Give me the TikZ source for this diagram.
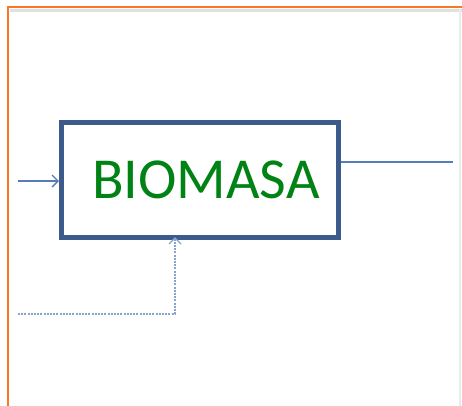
\documentclass[tikz,border=0pt]{standalone}
\usepackage{fontspec}
\setmainfont{Carlito}
\usetikzlibrary{arrows.meta}
\definecolor{frameorange}{RGB}{250,120,35}
\definecolor{boxblue}{RGB}{60,90,140}
\definecolor{lineblue}{RGB}{85,125,185}
\definecolor{textgreen}{RGB}{0,130,20}
\tikzset{
  blockbox/.style={draw=boxblue, line width=5pt, minimum width=277pt, minimum height=115pt, inner sep=0pt, font=\fontsize{58}{58}\selectfont, text=textgreen},
  flow/.style={draw=lineblue, line width=1.3pt, -{Straight Barb[length=6pt,width=12pt]}},
  plainflow/.style={draw=lineblue, line width=1.3pt},
  dotflow/.style={draw=lineblue!70, line width=2pt, dash pattern=on 2pt off 1.2pt, -{Straight Barb[length=6pt,width=12pt,line width=1.4pt]}}
}
\begin{document}
\begin{tikzpicture}[x=1pt,y=-1pt]
\useasboundingbox (0,0) rectangle (462,405);
\begin{scope}
\clip (0,0) rectangle (462,405);
\fill[white] (0,0) rectangle (462,405);
\draw[black!12, line width=3pt] (10,10) -- (470,10);
\draw[black!8, line width=1.5pt] (460,10) -- (460,410);
\draw[frameorange, line width=2pt] (470,7) -- (8,7) -- (8,410);
\end{scope}
\node[blockbox, text width=277pt, align=center] (bio) at (200,180) {\hspace*{12pt}BIOMASA};
\coordinate (inL) at (18,181);
\coordinate (outR) at (453,162);
\coordinate (fbS) at (18,314);
\coordinate (fbC) at (175,314);
\draw[flow] (inL) -- (inL -| bio.west);
\draw[plainflow] (outR -| bio.east) -- (outR);
\draw[dotflow] (fbS) -- (fbC) -- ([yshift=3pt]fbC |- bio.south);
\end{tikzpicture}
\end{document}
